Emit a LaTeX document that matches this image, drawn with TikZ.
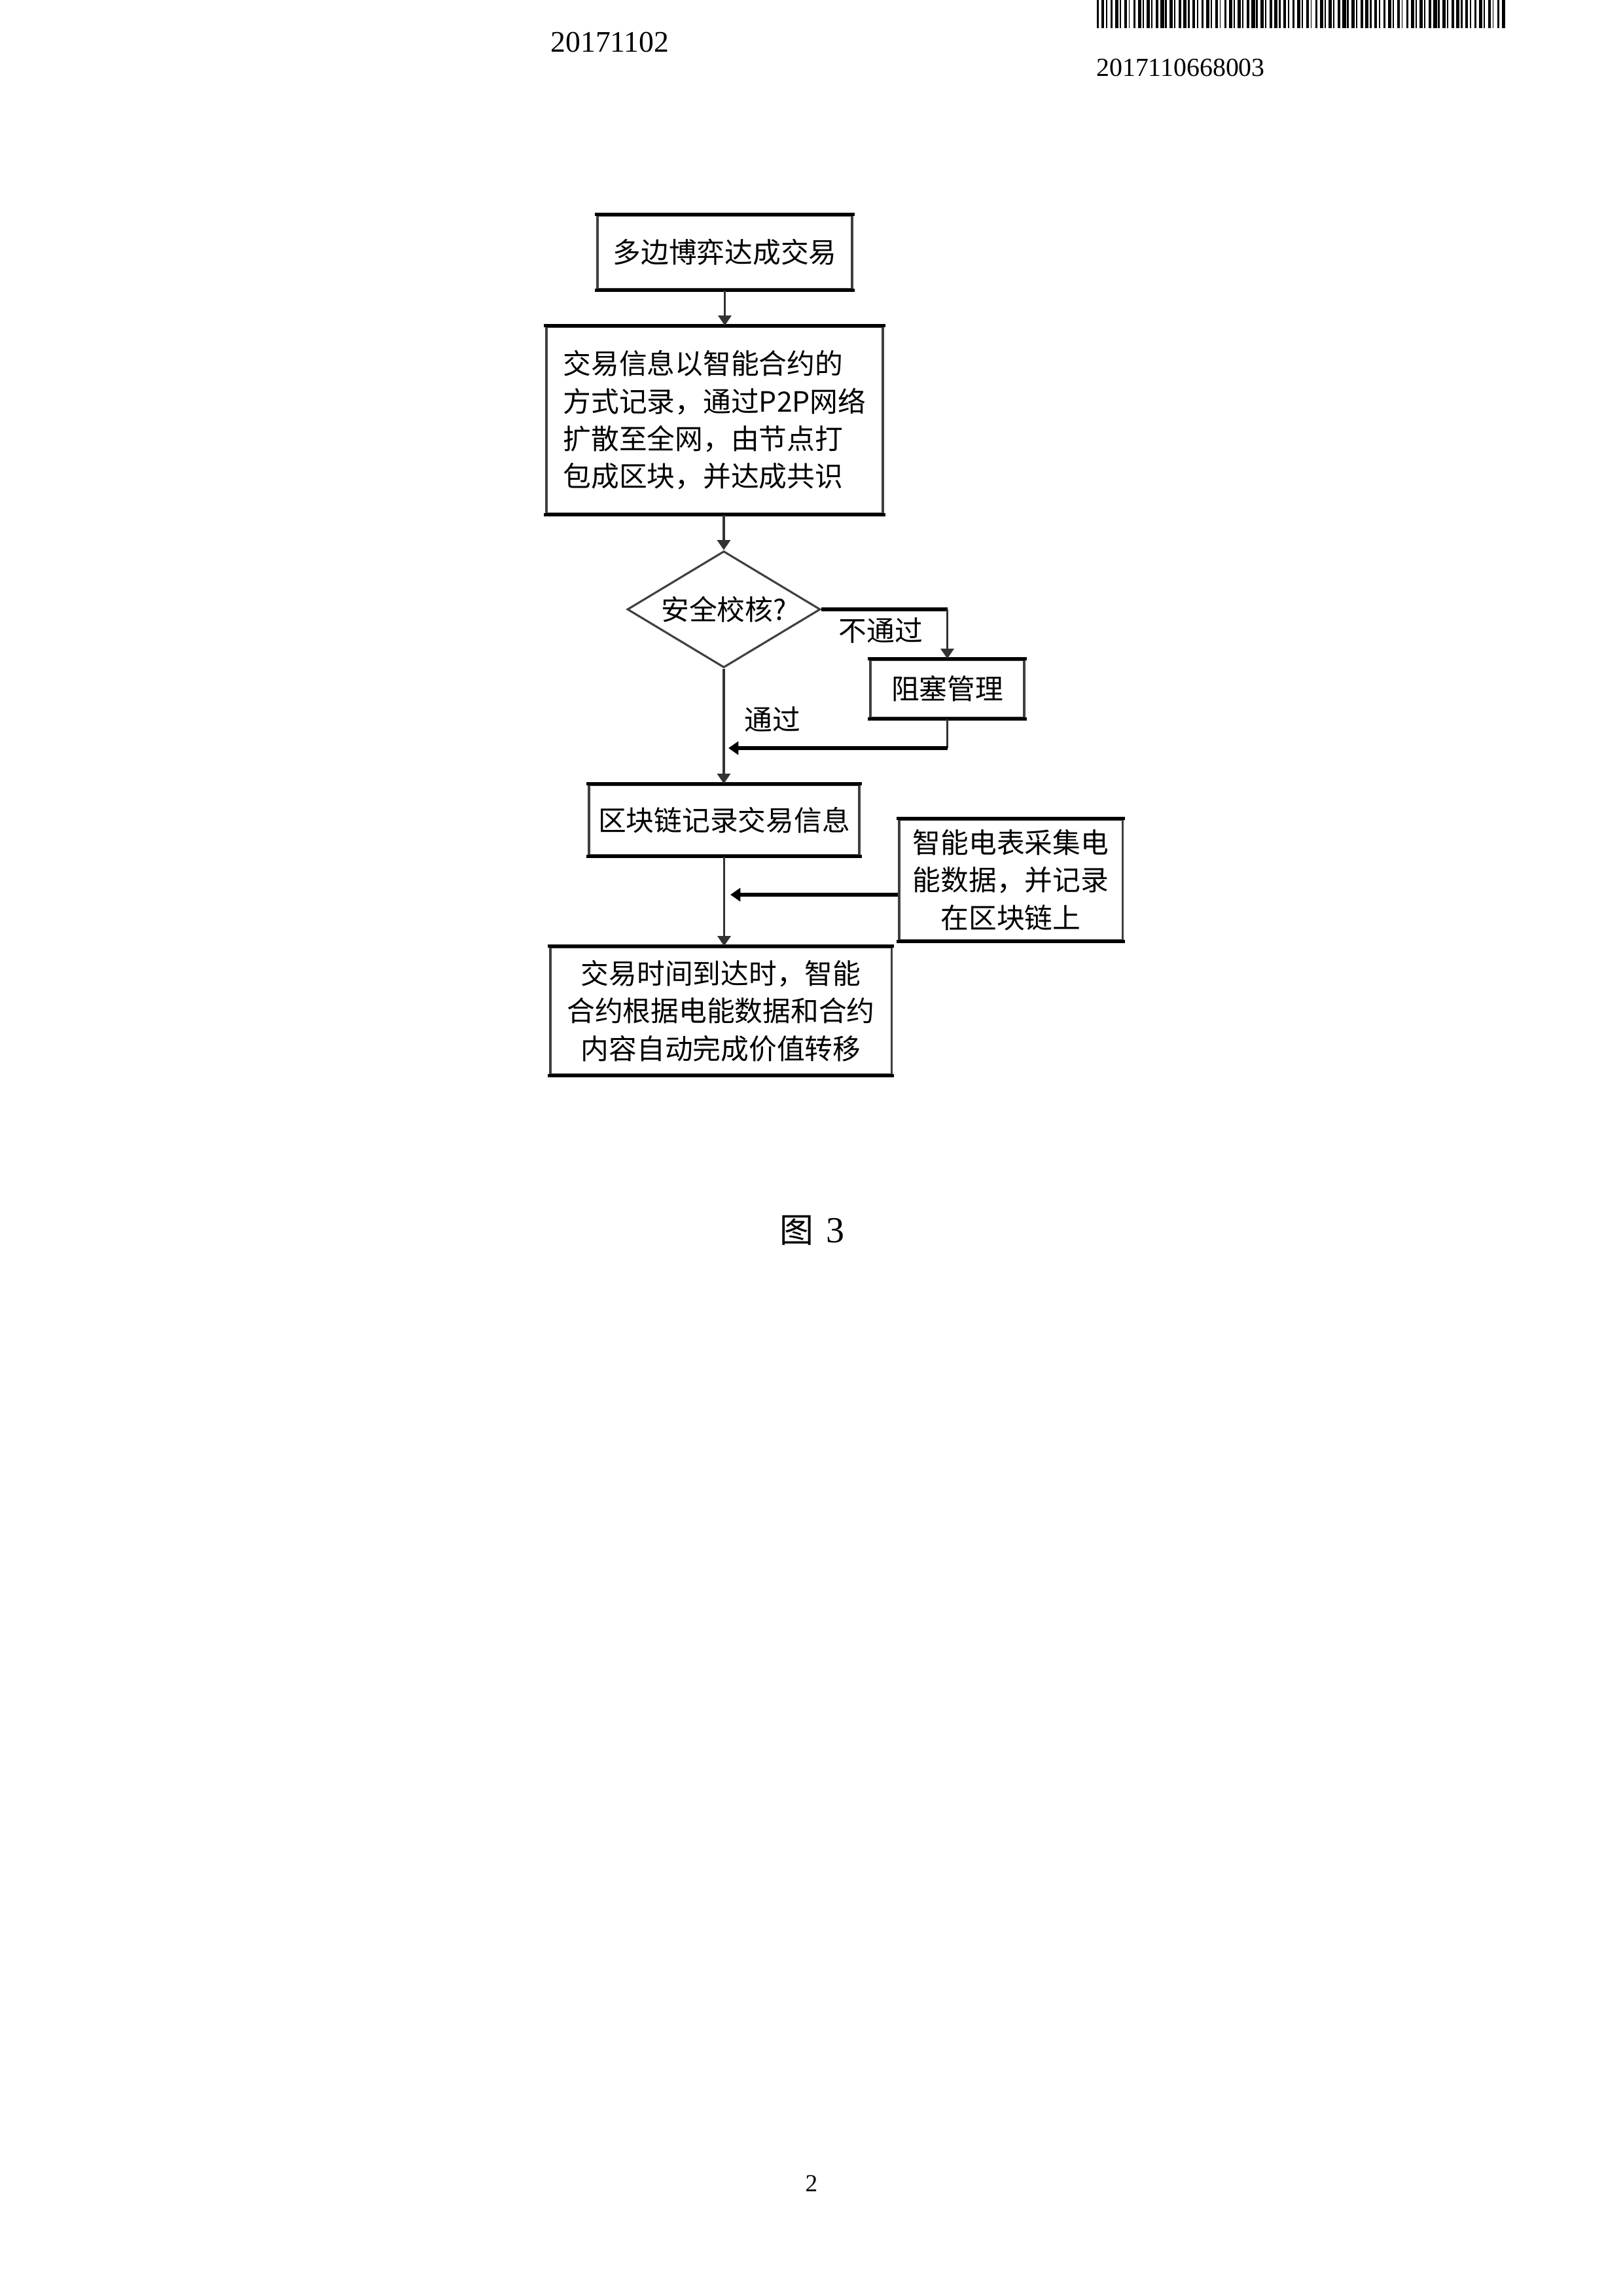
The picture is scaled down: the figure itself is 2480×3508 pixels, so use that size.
\documentclass[tikz,border=0pt]{standalone}
\usepackage{fontspec}
\setmainfont{Liberation Serif}
\newfontfamily\cjk{Noto Sans CJK SC}
\usetikzlibrary{shapes.geometric,arrows.meta}

\begin{document}
\begin{tikzpicture}[x=0.084677mm,y=-0.084677mm,
  font=\cjk\fontsize{10.3}{13.8}\selectfont,
  box/.style={draw=black!75, line width=0.75pt, inner sep=0pt, align=center},
  dia/.style={diamond, draw=black!75, line width=0.75pt, inner sep=0pt, shape aspect=1.66},
  vline/.style={draw=black!80, line width=0.75pt},
  hline/.style={draw=black, line width=1.3pt},
  tip/.style={-{Triangle[length=1.3mm,width=1.7mm]}},
  lbl/.style={inner sep=0pt},
  hdr/.style={inner sep=0pt, font=\rmfamily\fontsize{#1}{#1}\selectfont}
]
% page frame
\useasboundingbox[fill=white] (0,0) rectangle (2480,3508);

% header: date, barcode, application number
\node[hdr=11] (date) at (932,65) {20171102};
\foreach \i in {0,...,89} {
  \pgfmathsetmacro\bw{1.6+mod(\i*37+11,5)*0.9}
  \fill (1676+\i*6.95,0) rectangle ++(\bw,43);
}
\node[hdr=9.6] (appno) at (1804,103) {2017110668003};

% flow chart boxes
\node[box, minimum width=32.94mm, minimum height=9.57mm] (b1) at (1107.5,385.5) {多边博弈达成交易};
\node[box, minimum width=43.52mm, minimum height=24.22mm, align=left] (b2) at (1092,642)
  {交易信息以智能合约的\\方式记录，通过P2P网络\\扩散至全网，由节点打\\包成区块，并达成共识};
\node[dia, minimum width=24.98mm, minimum height=15.07mm] (chk) at (1106,931) {安全校核?};
\node[box, minimum width=19.90mm, minimum height=7.54mm] (blk) at (1447.5,1052.5) {阻塞管理};
\node[box, minimum width=34.97mm, minimum height=9.15mm] (b3) at (1106.5,1253) {区块链记录交易信息};
\node[box, minimum width=28.88mm, minimum height=15.67mm] (mtr) at (1544.5,1344.5)
  {智能电表采集电\\能数据，并记录\\在区块链上};
\node[box, minimum width=44.12mm, minimum height=16.51mm] (fin) at (1101.5,1544.5)
  {交易时间到达时，智能\\合约根据电能数据和合约\\内容自动完成价值转移};

% heavier top and bottom edges of the boxes
\foreach \n in {b1,b2,blk,b3,mtr,fin}
  \draw[hline, line cap=rect] (\n.north west) -- (\n.north east) (\n.south west) -- (\n.south east);

% branch labels
\node[lbl] (lno) at (1346,963) {不通过};
\node[lbl] (lyes) at (1180,1099) {通过};

% connectors
\coordinate (rj) at (1113,1143);
\coordinate (mj) at (1116,1367);
\draw[vline, tip] (b1.south) -- (b1.south |- b2.north);
\draw[vline, tip] (b2.south -| chk.north) -- (chk.north);
\draw[hline] (chk.east) -- (chk.east -| blk.north);
\draw[vline, tip] (chk.east -| blk.north) -- (blk.north);
\draw[vline] (blk.south) -- (blk.south |- rj);
\draw[hline, tip] (blk.south |- rj) -- (rj);
\draw[vline, tip] (chk.south) -- (chk.south |- b3.north);
\draw[hline, tip] (mtr.west |- mj) -- (mj);
\draw[vline, tip] (b3.south) -- (b3.south |- fin.north);

% caption and page number
\node[lbl] (cap) at (1241,1880) {{\cjk\fontsize{12.5}{13}\selectfont 图}\hspace{1.6mm}{\rmfamily\fontsize{13.5}{14}\selectfont 3}};
\node[hdr=9] (page) at (1240,3336) {2};
\end{tikzpicture}
\end{document}
